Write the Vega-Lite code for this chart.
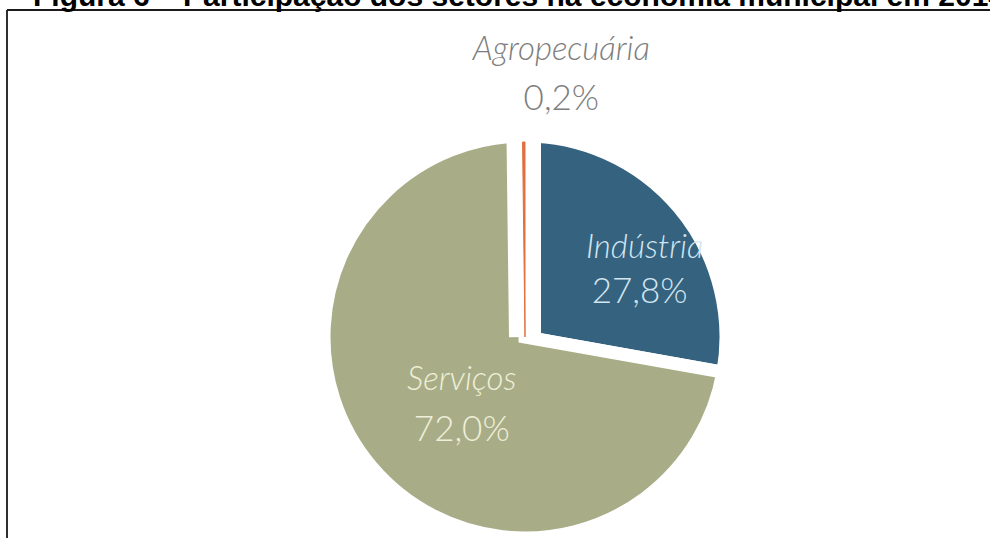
{
  "$schema": "https://vega.github.io/schema/vega-lite/v6.json",
  "width": 1036,
  "height": 654,
  "autosize": {"type": "none"},
  "padding": {"left": 7, "top": 10, "right": 0, "bottom": 0},
  "background": "white",
  "view": {"stroke": "#1a1a1a", "strokeWidth": 1.8, "strokeDash": [1036, 1690, 654, 0]},
  "title": {
    "text": "Figura 6 – Participação dos setores na economia municipal em 2014",
    "anchor": "start",
    "frame": "group",
    "font": "Liberation Sans",
    "fontSize": 30,
    "fontWeight": "bold",
    "color": "#000000",
    "baseline": "alphabetic",
    "offset": 6,
    "dx": 26,
    "dy": 32
  },
  "data": {
    "values": [
      {"setor": "Indústria", "valor": 27.8, "rotulo": "27,8%", "ordem": 1},
      {"setor": "Serviços", "valor": 72.0, "rotulo": "72,0%", "ordem": 2},
      {"setor": "Agropecuária", "valor": 0.2, "rotulo": "0,2%", "ordem": 3}
    ]
  },
  "encoding": {
    "theta": {"field": "valor", "type": "quantitative", "stack": true},
    "order": {"field": "ordem", "type": "quantitative"}
  },
  "layer": [
    {
      "mark": {"type": "arc", "outerRadius": 201, "stroke": "white", "strokeWidth": 13, "strokeJoin": "miter"},
      "encoding": {
        "color": {
          "field": "setor",
          "type": "nominal",
          "scale": {"domain": ["Indústria", "Serviços", "Agropecuária"], "range": ["#34627f", "#a8ad87", "#e0703f"]},
          "legend": null
        }
      }
    },
    {
      "mark": {"type": "arc", "outerRadius": 195, "fill": "white", "stroke": "white", "strokeWidth": 32},
      "encoding": {
        "opacity": {"condition": {"test": "datum.setor === 'Agropecuária'", "value": 1}, "value": 0}
      }
    },
    {
      "mark": {"type": "arc", "outerRadius": 195, "fill": "#e0703f", "stroke": "#e0703f", "strokeWidth": 1},
      "encoding": {
        "opacity": {"condition": {"test": "datum.setor === 'Agropecuária'", "value": 1}, "value": 0}
      }
    },
    {
      "mark": {"type": "text", "radius": 130, "dx": 20, "dy": 4, "font": "Lato", "fontStyle": "italic", "fontWeight": 300, "fontSize": 33, "align": "center", "baseline": "alphabetic", "color": "#d3e5ef"},
      "encoding": {
        "text": {"field": "setor"},
        "opacity": {"condition": {"test": "datum.setor === 'Indústria'", "value": 1}, "value": 0}
      }
    },
    {
      "mark": {"type": "text", "radius": 130, "dx": 15, "dy": 49, "font": "Lato", "fontWeight": 300, "fontSize": 35, "align": "center", "baseline": "alphabetic", "color": "#d3e5ef"},
      "encoding": {
        "text": {"field": "rotulo"},
        "opacity": {"condition": {"test": "datum.setor === 'Indústria'", "value": 1}, "value": 0}
      }
    },
    {
      "mark": {"type": "text", "radius": 100, "dx": 13, "dy": -12, "font": "Lato", "fontStyle": "italic", "fontWeight": 300, "fontSize": 33, "align": "center", "baseline": "alphabetic", "color": "#efefd9"},
      "encoding": {
        "text": {"field": "setor"},
        "opacity": {"condition": {"test": "datum.setor === 'Serviços'", "value": 1}, "value": 0}
      }
    },
    {
      "mark": {"type": "text", "radius": 100, "dx": 13, "dy": 39, "font": "Lato", "fontWeight": 300, "fontSize": 35, "align": "center", "baseline": "alphabetic", "color": "#efefd9"},
      "encoding": {
        "text": {"field": "rotulo"},
        "opacity": {"condition": {"test": "datum.setor === 'Serviços'", "value": 1}, "value": 0}
      }
    },
    {
      "mark": {"type": "text", "radius": 260, "dx": 38, "dy": -17, "font": "Lato", "fontStyle": "italic", "fontWeight": 300, "fontSize": 33, "align": "center", "baseline": "alphabetic", "color": "#7d7d7d"},
      "encoding": {
        "text": {"field": "setor"},
        "opacity": {"condition": {"test": "datum.setor === 'Agropecuária'", "value": 1}, "value": 0}
      }
    },
    {
      "mark": {"type": "text", "radius": 260, "dx": 38, "dy": 33, "font": "Lato", "fontWeight": 300, "fontSize": 35, "align": "center", "baseline": "alphabetic", "color": "#7d7d7d"},
      "encoding": {
        "text": {"field": "rotulo"},
        "opacity": {"condition": {"test": "datum.setor === 'Agropecuária'", "value": 1}, "value": 0}
      }
    }
  ]
}
